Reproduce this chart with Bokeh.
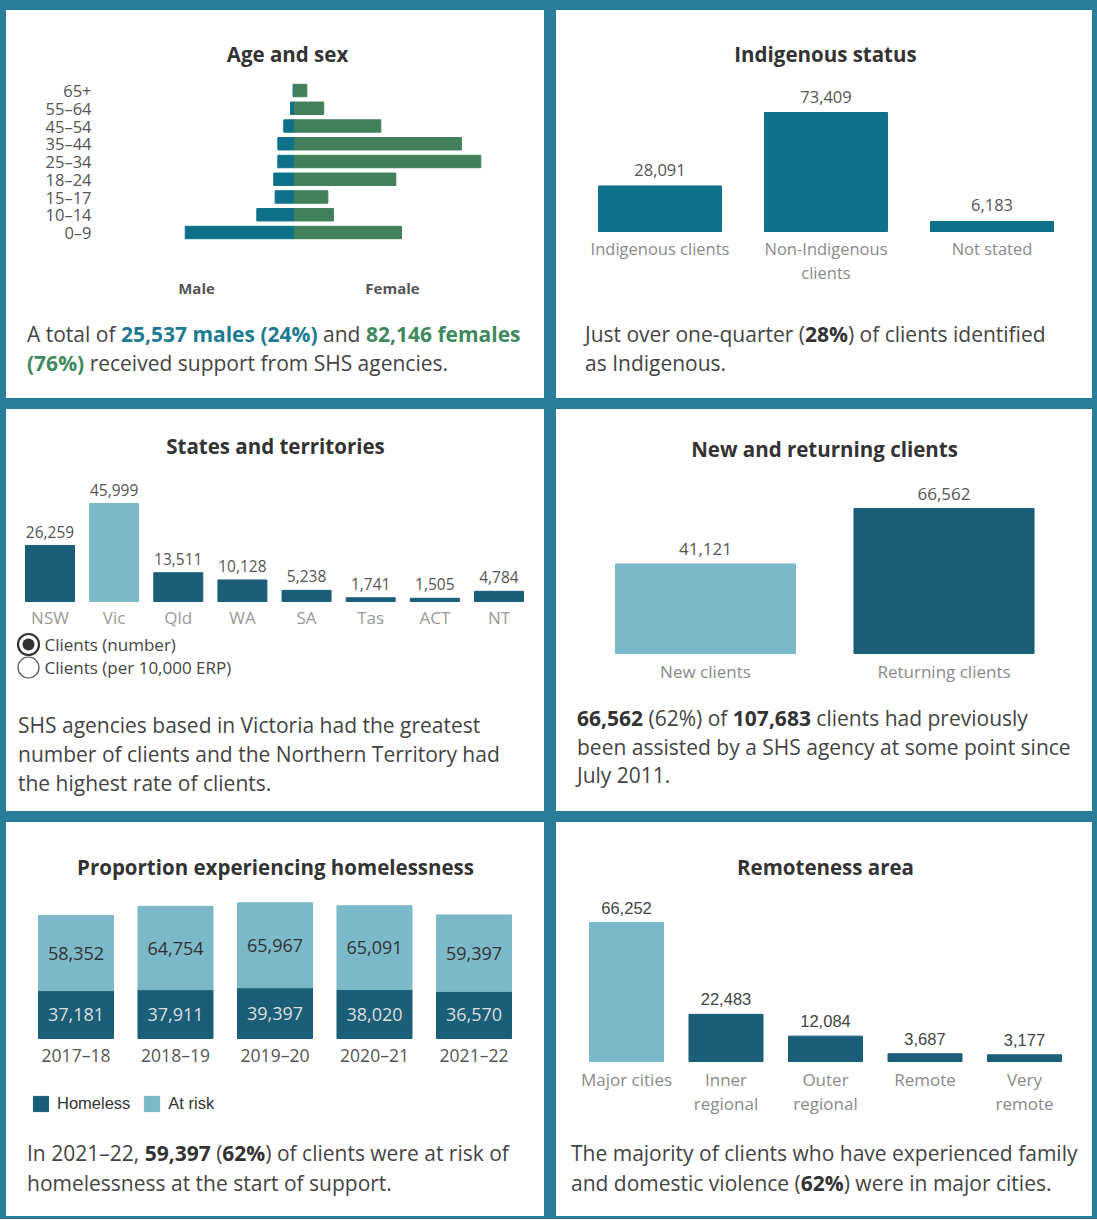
from bokeh.plotting import figure
from bokeh.models import ColumnDataSource, Range1d, Div, Legend, LegendItem
from bokeh.layouts import column, row
from bokeh.embed import file_html
from bokeh.resources import INLINE
from bokeh.core.properties import value

# ---------------- data ----------------
age_groups = ["0–9", "10–14", "15–17", "18–24", "25–34", "35–44", "45–54", "55–64", "65+"]
males = [11800, 4070, 2090, 2240, 1800, 1800, 1160, 430, 150]
females = [11560, 4210, 3600, 10940, 20120, 18030, 9320, 3160, 1330]

indig_cats = ["Indigenous clients", "Non-Indigenous\nclients", "Not stated"]
indig_vals = [28091, 73409, 6183]

states = ["NSW", "Vic", "Qld", "WA", "SA", "Tas", "ACT", "NT"]
state_vals = [26259, 45999, 13511, 10128, 5238, 1741, 1505, 4784]

nr_cats = ["New clients", "Returning clients"]
nr_vals = [41121, 66562]

years = ["2017–18", "2018–19", "2019–20", "2020–21", "2021–22"]
homeless = [37181, 37911, 39397, 38020, 36570]
at_risk = [58352, 64754, 65967, 65091, 59397]

remote_cats = ["Major cities", "Inner\nregional", "Outer\nregional", "Remote", "Very\nremote"]
remote_vals = [66252, 22483, 12084, 3687, 3177]

# ---------------- style ----------------
TEAL_BG = "#2a7d99"
MALE = "#0e7189"
FEMALE = "#41805b"
DARK = "#1a5e78"
LIGHT = "#7bb8c8"
FONT = "Open Sans"
ARIAL = "Liberation Sans"


class Frame:
    """A figure whose frame fills the whole canvas; data 0 sits at pixel (x0, y0)."""

    def __init__(self, W, H, x0, sx, y0, sy):
        self.x0, self.sx, self.y0, self.sy = x0, sx, y0, sy
        self.p = figure(width=W, height=H,
                        x_range=Range1d(-x0 / sx, (W - x0) / sx),
                        y_range=Range1d((y0 - H) / sy, y0 / sy),
                        output_backend="svg", toolbar_location=None, tools="",
                        x_axis_location=None, y_axis_location=None,
                        min_border=0, outline_line_color=None,
                        background_fill_color="white", border_fill_color="white")
        self.p.grid.visible = False

    def X(self, px):
        return (px - self.x0) / self.sx

    def Y(self, py):
        return (self.y0 - py) / self.sy

    def text(self, xs, ys, texts, size, color, align="center", baseline="middle",
             bold=False, font=FONT, yoff=0, lh=1.2):
        self.p.text(x=xs, y=ys, text=texts, text_font=value(font),
                    text_font_size=f"{size}px", text_color=color,
                    text_align=align, text_baseline=baseline,
                    text_font_style="bold" if bold else "normal",
                    y_offset=yoff, text_line_height=lh)

    def title(self, label, cx, cy):
        self.text([self.X(cx)], [self.Y(cy)], [label], 20.5, "#333333", bold=True)


def panel(fr, cap_html, W, H, figH, padl, lh=29):
    div = Div(text=(f'<div style="font-family:\'Open Sans\';font-size:21px;line-height:{lh}px;'
                    f'color:#444;padding-left:{padl}px;white-space:nowrap">{cap_html}</div>'),
              width=W, height=H - figH, margin=0)
    return column(fr.p, div, width=W, height=H, spacing=0,
                  styles={"background-color": "white"})


WL, WR = 538, 536
H1, H2, H3 = 388, 402, 394

# ---------------- Panel A: age and sex ----------------
fa = Frame(WL, 310, 288, 1 / 108, 222, 17.75)
idx = list(range(len(age_groups)))
srcA = ColumnDataSource(dict(y=idx, male=[-m for m in males], female=females))
fa.p.hbar(y="y", left="male", right=0, height=0.7, color=MALE, source=srcA)
fa.p.hbar(y="y", left=0, right="female", height=0.7, color=FEMALE, source=srcA)
fa.text([fa.X(85)] * len(idx), idx, age_groups, 16.5, "#555555", align="right")
fa.text([fa.X(190), fa.X(386)], [fa.Y(277)] * 2, ["Male", "Female"], 15, "#555555", bold=True)
fa.title("Age and sex", 281, 43)
capA = ('A total of <b style="color:#1d7b93">25,537 males (24%)</b> and '
        '<b style="color:#3f8a5c">82,146 females</b><br>'
        '<b style="color:#3f8a5c">(76%)</b> received support from SHS agencies.')
pA = panel(fa, capA, WL, H1, 310, 21)

# ---------------- Panel B: Indigenous status ----------------
fb = Frame(WR, 310, 103.5, 166, 221, 119 / 73409)
xb = list(range(len(indig_cats)))
fb.p.vbar(x=xb, top=indig_vals, width=0.741, color=MALE)
fb.text(xb, indig_vals, [f"{v:,}" for v in indig_vals], 16.5, "#555555", yoff=-16)
fb.text(xb, [0] * len(xb), indig_cats, 16.5, "#8a8a8a", baseline="top", yoff=5, lh=1.05)
fb.title("Indigenous status", 269, 43)
capB = 'Just over one-quarter (<b style="color:#333">28%</b>) of clients identified<br>as Indigenous.'
pB = panel(fb, capB, WR, H1, 310, 29)

# ---------------- Panel C: states and territories ----------------
fc = Frame(WL, 302, 43.5, 64.14, 192, 98 / 45999)
xc = list(range(len(states)))
state_colors = [LIGHT if v == max(state_vals) else DARK for v in state_vals]
fc.p.vbar(x=xc, top=state_vals, width=0.764, color=state_colors)
fc.text(xc, state_vals, [f"{v:,}" for v in state_vals], 15.5, "#555555", yoff=-14)
fc.text(xc, [0] * len(xc), states, 17, "#999999", yoff=16)
# radio selector
fc.p.scatter(x=[fc.X(22), fc.X(22)], y=[fc.Y(235), fc.Y(258)], size=21,
             fill_color="white", line_color=["#333333", "#555555"], line_width=[2.2, 1.2])
fc.p.scatter(x=[fc.X(22)], y=[fc.Y(235)], size=12, fill_color="#333333", line_color=None)
fc.text([fc.X(38)] * 2, [fc.Y(235), fc.Y(258)], ["Clients (number)", "Clients (per 10,000 ERP)"],
        17, "#444444", align="left")
fc.title("States and territories", 269, 36)
capC = ('SHS agencies based in Victoria had the greatest<br>'
        'number of clients and the Northern Territory had<br>'
        'the highest rate of clients.')
pC = panel(fc, capC, WL, H2, 302, 12)

# ---------------- Panel D: new and returning ----------------
fd = Frame(WR, 295, 149, 238.5, 244, 145 / 66562)
xd = list(range(len(nr_cats)))
fd.p.vbar(x=xd, top=nr_vals, width=0.755, color=[LIGHT, DARK])
fd.text(xd, nr_vals, [f"{v:,}" for v in nr_vals], 17, "#555555", yoff=-15)
fd.text(xd, [0] * len(xd), nr_cats, 17, "#8a8a8a", yoff=18)
fd.title("New and returning clients", 268, 39)
capD = ('<b style="color:#333">66,562</b> (62%) of <b style="color:#333">107,683</b> clients had previously<br>'
        'been assisted by a SHS agency at some point since<br>July 2011.')
pD = panel(fd, capD, WR, H2, 295, 21, lh=28.5)

# ---------------- Panel E: homelessness ----------------
fe = Frame(WL, 316, 69.5, 99.5, 216, 123 / 95533)
xe = list(range(len(years)))
srcE = ColumnDataSource(dict(x=xe, homeless=homeless, at_risk=at_risk))
rs = fe.p.vbar_stack(["homeless", "at_risk"], x="x", width=0.754, color=[DARK, LIGHT], source=srcE)
fe.text(xe, [h / 2 for h in homeless], [f"{v:,}" for v in homeless], 18, "#dddddd")
fe.text(xe, [h + r / 2 for h, r in zip(homeless, at_risk)], [f"{v:,}" for v in at_risk], 18, "#333333")
fe.text(xe, [0] * len(xe), years, 17.5, "#555555", yoff=16)
fe.title("Proportion experiencing homelessness", 269, 44)
leg = Legend(items=[LegendItem(label="Homeless", renderers=[rs[0]]),
                    LegendItem(label="At risk", renderers=[rs[1]])],
             location=(25, 316 - 291), orientation="horizontal",
             glyph_width=19, glyph_height=19, label_standoff=7, spacing=12,
             label_text_font=ARIAL, label_text_font_size="16.5px", label_text_color="#333333",
             border_line_color=None, background_fill_alpha=0, padding=0, margin=0)
fe.p.add_layout(leg)
capE = ('In 2021–22, <b style="color:#333">59,397</b> (<b style="color:#333">62%</b>) of clients were at risk of<br>'
        'homelessness at the start of support.')
pE = panel(fe, capE, WL, H3, 316, 21, lh=30)

# ---------------- Panel F: remoteness ----------------
ff = Frame(WR, 316, 70, 99.5, 239, 139 / 66252)
xf = list(range(len(remote_cats)))
remote_colors = [LIGHT if v == max(remote_vals) else DARK for v in remote_vals]
ff.p.vbar(x=xf, top=remote_vals, width=0.744, color=remote_colors)
ff.text(xf, remote_vals, [f"{v:,}" for v in remote_vals], 16.5, "#444444", yoff=-15, font=ARIAL)
ff.text(xf, [0] * len(xf), remote_cats, 17, "#8a8a8a", baseline="top", yoff=6, lh=1.05)
ff.title("Remoteness area", 269, 44)
capF = ('The majority of clients who have experienced family<br>'
        'and domestic violence (<b style="color:#333">62%</b>) were in major cities.')
pF = panel(ff, capF, WR, H3, 316, 15, lh=30)

layout = column(row(pA, pB, spacing=12), row(pC, pD, spacing=12), row(pE, pF, spacing=12),
                spacing=11,
                styles={"background-color": TEAL_BG, "padding": "10px 5px 3px 6px"})

open("out.html", "w").write(file_html(layout, INLINE))
